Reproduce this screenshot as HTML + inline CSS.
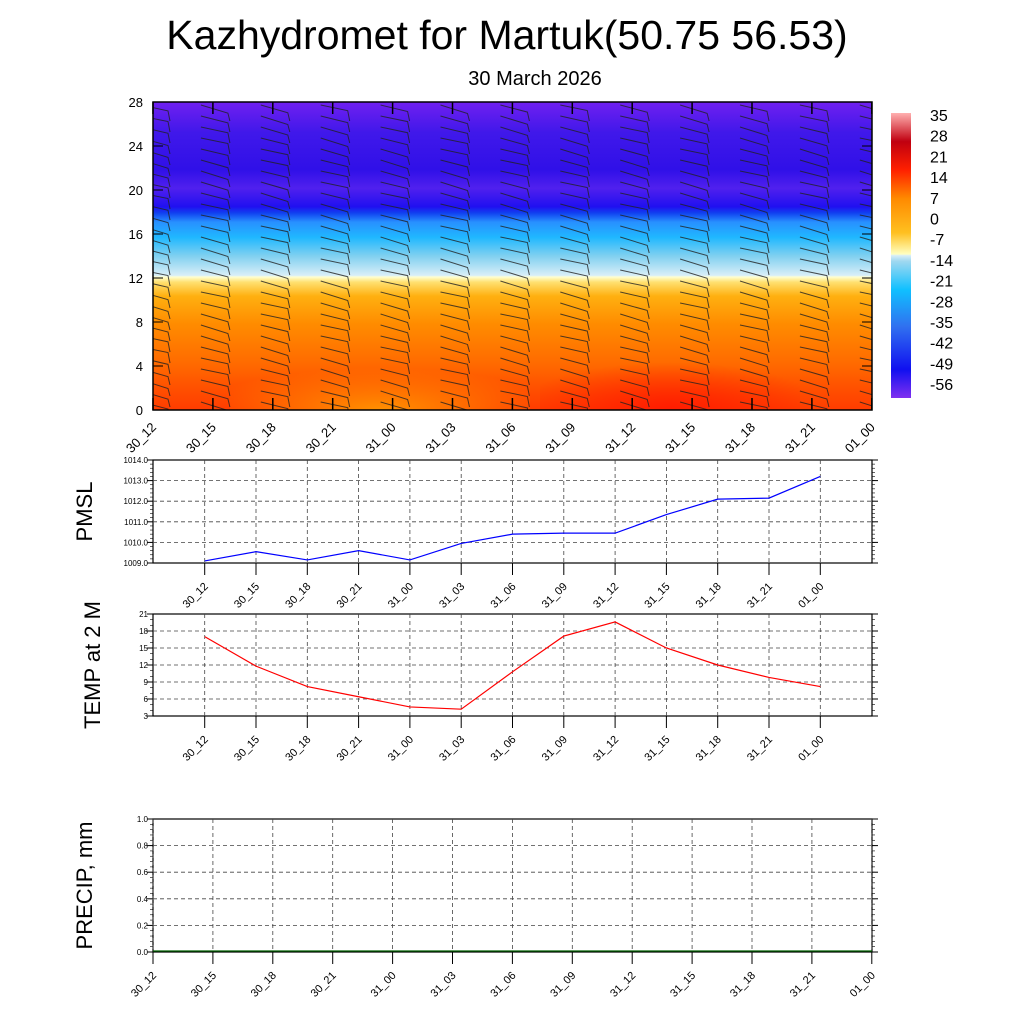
<!DOCTYPE html>
<html><head><meta charset="utf-8"><style>
body{margin:0;background:#fff;}
svg{display:block;font-family:"Liberation Sans",sans-serif;}
</style></head><body>
<svg id="s" width="1024" height="1024" xmlns="http://www.w3.org/2000/svg">
<defs>
<clipPath id="cp"><rect x="153" y="102" width="719" height="308"/></clipPath>
<linearGradient id="g" x1="0" y1="1" x2="0" y2="0">
<stop offset="0" stop-color="#ff3c00"/>
<stop offset="0.07" stop-color="#ff5000"/>
<stop offset="0.15" stop-color="#ff6a00"/>
<stop offset="0.28" stop-color="#ff8c00"/>
<stop offset="0.37" stop-color="#ffb010"/>
<stop offset="0.415" stop-color="#ffe070"/>
<stop offset="0.432" stop-color="#ffffd0"/>
<stop offset="0.437" stop-color="#d8eef8"/>
<stop offset="0.5" stop-color="#80d0f0"/>
<stop offset="0.56" stop-color="#20b8ff"/>
<stop offset="0.61" stop-color="#2890ff"/>
<stop offset="0.64" stop-color="#1040f0"/>
<stop offset="0.66" stop-color="#2010f0"/>
<stop offset="0.72" stop-color="#5020ee"/>
<stop offset="0.78" stop-color="#3010e8"/>
<stop offset="0.9" stop-color="#4018ea"/>
<stop offset="1" stop-color="#7020f0"/>
</linearGradient>
<linearGradient id="cb" x1="0" y1="1" x2="0" y2="0">
<stop offset="0" stop-color="#8030f0"/>
<stop offset="0.1" stop-color="#1010f0"/>
<stop offset="0.25" stop-color="#3070f0"/>
<stop offset="0.38" stop-color="#10c0ff"/>
<stop offset="0.48" stop-color="#a0d8f0"/>
<stop offset="0.5" stop-color="#d8eef8"/>
<stop offset="0.505" stop-color="#ffffc0"/>
<stop offset="0.58" stop-color="#ffc020"/>
<stop offset="0.7" stop-color="#ff8a00"/>
<stop offset="0.8" stop-color="#ff2000"/>
<stop offset="0.9" stop-color="#c00010"/>
<stop offset="1" stop-color="#ffb0b0"/>
</linearGradient>
<radialGradient id="rb" cx="0.5" cy="1" r="0.6">
<stop offset="0" stop-color="#ff9a00" stop-opacity="0.9"/>
<stop offset="1" stop-color="#ff9a00" stop-opacity="0"/>
</radialGradient>
<radialGradient id="rr" cx="0.5" cy="1" r="0.6">
<stop offset="0" stop-color="#ff1800" stop-opacity="0.9"/>
<stop offset="1" stop-color="#ff1800" stop-opacity="0"/>
</radialGradient>
</defs>
<text x="507" y="49" font-size="41" text-anchor="middle">Kazhydromet for Martuk(50.75 56.53)</text>
<text x="535" y="85" font-size="20" text-anchor="middle">30 March 2026</text>
<rect x="153" y="102" width="719" height="308" fill="url(#g)"/>
<rect x="230" y="340" width="300" height="70" fill="url(#rb)"/>
<rect x="540" y="330" width="260" height="80" fill="url(#rr)"/>
<g id="barbs" stroke="#222" stroke-width="1" fill="none" opacity="0.8" clip-path="url(#cp)"></g>
<rect x="153" y="102" width="719" height="308" fill="none" stroke="#000" stroke-width="1.5"/>
<g id="top" font-size="13"></g>
<rect x="891" y="113" width="20" height="285" fill="url(#cb)"/>
<g id="cbl" font-size="16"></g>
<g id="p1"></g>
</svg>
<script>
const NS="http://www.w3.org/2000/svg";
function el(p,t,a,txt){const e=document.createElementNS(NS,t);for(const k in a)e.setAttribute(k,a[k]);if(txt!==undefined)e.textContent=txt;document.getElementById(p).appendChild(e);return e;}
const labs=["30_12","30_15","30_18","30_21","31_00","31_03","31_06","31_09","31_12","31_15","31_18","31_21","01_00"];
for(let v=0;v<=28;v+=4){const y=410-v*11;el("top","text",{x:143,y:y+5,"text-anchor":"end"},v);el("top","line",{x1:153,y1:y,x2:163,y2:y,stroke:"#000"});el("top","line",{x1:872,y1:y,x2:862,y2:y,stroke:"#000"});}
for(let i=0;i<13;i++){const x=153+i*59.9;el("top","line",{x1:x,y1:410,x2:x,y2:398,stroke:"#000","stroke-width":1.5});el("top","line",{x1:x,y1:102,x2:x,y2:114,stroke:"#000","stroke-width":1.5});
el("top","text",{x:x+4,y:428,"text-anchor":"end",transform:`rotate(-45 ${x+4} 428)`},labs[i]);}
for(let i=0;i<13;i++){const bx=153+i*59.9;for(let k=0;k<28;k++){const y=406-k*11;
const sw=Math.sin(i*1.7+k*0.9)*1.5;
el("barbs","path",{d:`M${bx-12} ${y-4} L${bx+15} ${y+3+sw} L${bx+17} ${y+12}`});}}
const cv=[35,28,21,14,7,0,-7,-14,-21,-28,-35,-42,-49,-56];
cv.forEach((v,j)=>el("cbl","text",{x:930,y:121+j*20.7},v));
function panel(y0,y1,x0,x1,ticks,tfmt,ymin,ymax,minor,xs,label,data,col,lx){
 const g="p1";
 el(g,"rect",{x:x0,y:y0,width:x1-x0,height:y1-y0,fill:"none",stroke:"#000","stroke-width":1.2});
 const sy=v=>y1-(v-ymin)/(ymax-ymin)*(y1-y0);
 for(const v of ticks){const y=sy(v);el(g,"text",{x:x0-5,y:y+3,"text-anchor":"end","font-size":8},tfmt(v));
  el(g,"line",{x1:x0-6,y1:y,x2:x0,y2:y,stroke:"#000"});el(g,"line",{x1:x1,y1:y,x2:x1+6,y2:y,stroke:"#000"});
  if(v>ymin&&v<ymax)el(g,"line",{x1:x0,y1:y,x2:x1,y2:y,stroke:"#444","stroke-dasharray":"4 3","stroke-width":0.8});}
 for(let v=ymin;v<=ymax+1e-9;v+=minor){const y=sy(v);el(g,"line",{x1:x0-3,y1:y,x2:x0,y2:y,stroke:"#000","stroke-width":0.6});el(g,"line",{x1:x1,y1:y,x2:x1+3,y2:y,stroke:"#000","stroke-width":0.6});}
 xs.forEach((x,i)=>{el(g,"line",{x1:x,y1:y0,x2:x,y2:y1,stroke:"#444","stroke-dasharray":"4 3","stroke-width":0.8});
  el(g,"line",{x1:x,y1:y1,x2:x,y2:y1+12,stroke:"#000"});
  el(g,"text",{x:x+4,y:y1+24,"text-anchor":"end","font-size":11,transform:`rotate(-45 ${x+4} ${y1+24})`},labs[i]);});
 el(g,"text",{x:lx,y:(y0+y1)/2,"text-anchor":"middle","font-size":22,transform:`rotate(-90 ${lx} ${(y0+y1)/2})`},label);
 if(data){let d="";data.forEach((v,i)=>{d+=(i?"L":"M")+xs[i]+" "+sy(v)+" ";});el(g,"path",{d:d,stroke:col,fill:"none","stroke-width":1.2});}
}
const xs2=labs.map((_,i)=>204.7+i*51.3);
panel(460,563,153,872,[1009,1010,1011,1012,1013,1014],v=>v.toFixed(1),1009,1014,0.2,xs2,"PMSL",
[1009.1,1009.55,1009.15,1009.6,1009.15,1009.95,1010.4,1010.45,1010.45,1011.35,1012.1,1012.15,1013.2],"#0000ff",92);
panel(614,716,153,872,[3,6,9,12,15,18,21],v=>v,3,21,1,xs2,"TEMP at 2 M",
[17,11.8,8.2,6.4,4.6,4.2,10.8,17.1,19.6,15,12,9.8,8.2],"#ff0000",100);
const xs3=labs.map((_,i)=>153+i*59.9);
panel(819,952,153,872,[0,0.2,0.4,0.6,0.8,1.0],v=>v.toFixed(1),0,1,0.04,xs3,"PRECIP, mm",null,null,92);
el("p1","line",{x1:153,y1:951,x2:872,y2:951,stroke:"#006000","stroke-width":1.2});
</script>
</body></html>
